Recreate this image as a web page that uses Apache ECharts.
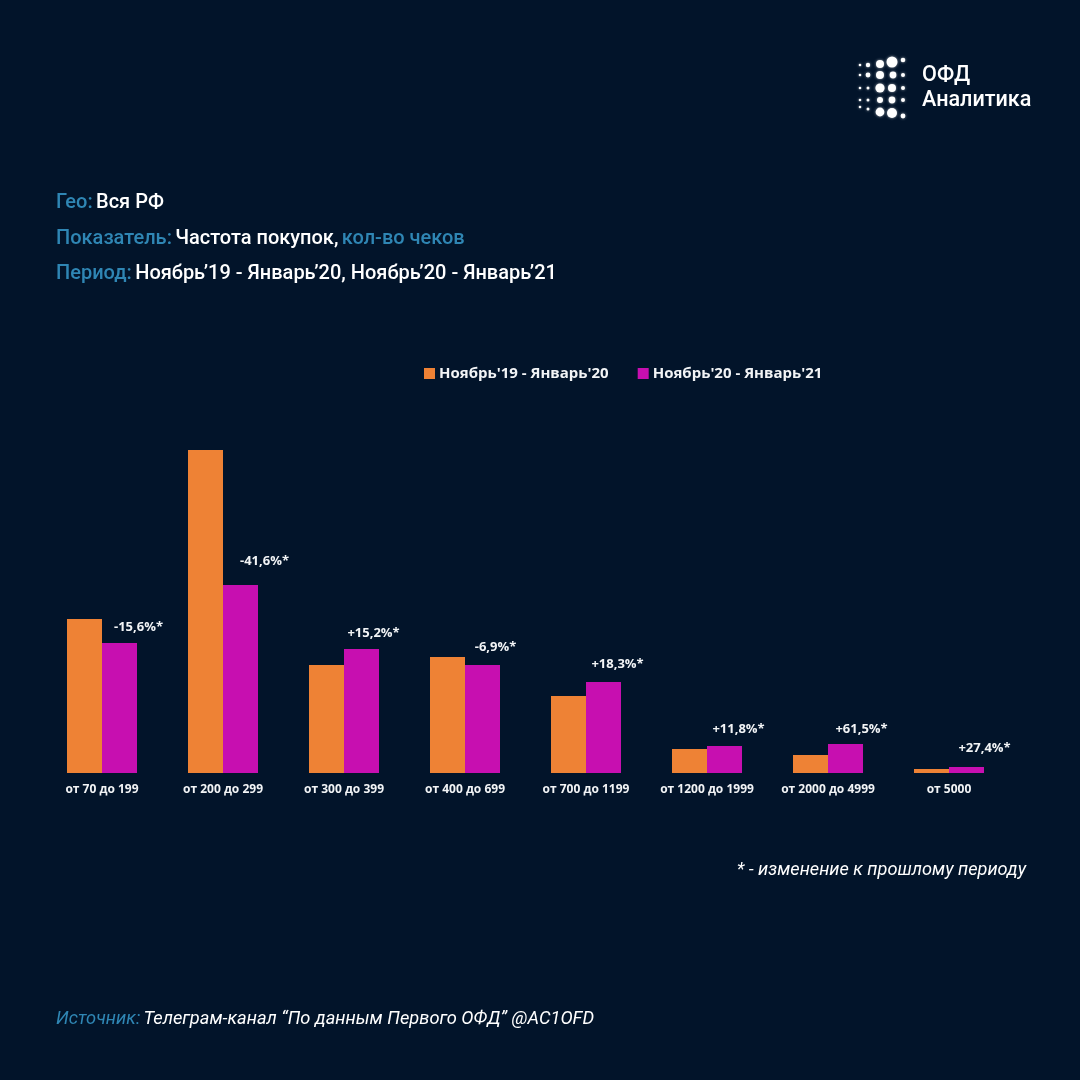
<!DOCTYPE html>
<html>
<head>
<meta charset="utf-8">
<style>html,body{margin:0;padding:0;background:#02142a}#chart{width:1080px;height:1080px}</style>
<script src="https://cdn.jsdelivr.net/npm/echarts@6/dist/echarts.min.js"></script>
</head>
<body>
<div id="chart"></div>
<script>
const categories = ['от 70 до 199','от 200 до 299','от 300 до 399','от 400 до 699','от 700 до 1199','от 1200 до 1999','от 2000 до 4999','от 5000']
const prevPeriod = [154, 323, 108, 116, 77, 24, 18, 4]
const currPeriod = [130, 188, 124, 108, 91, 27, 29, 6]
const changes = ['-15,6%*','-41,6%*','+15,2%*','-6,9%*','+18,3%*','+11,8%*','+61,5%*','+27,4%*']
const seriesNames = ["Ноябрь'19 - Январь'20", "Ноябрь'20 - Январь'21"]

const labelShift = [[19,-4],[24,-12],[12,-4],[13,-6],[14,-6],[14,-5],[16,-3],[18,-7]]
const BLUE = '#2f86b4'
const WHITE = '#ffffff'

var chart = echarts.init(document.getElementById('chart'))

function richLine(y, rich_text, font){
  return {
    type: 'text', left: 56, top: y,
    style: {
      text: rich_text,
      rich: {
        b: { fill: BLUE, font: font },
        w: { fill: WHITE, font: font }
      }
    }
  }
}

// logo dots: [x, y, r]
const logoDots = [
  [860,65,1.3],[868,65,2.2],[880,64,4],[892,62,5.5],[903,60,2.3],
  [860,75,1.3],[868,75,2.4],[880,75,4],[893,75,3.4],[903,75,2],
  [860,88,1.3],[868,88,1.5],[880,88,4.6],[892,88,4],[903,88,2],
  [860,100,1.3],[868,100,1.5],[880,100,3],[892,100,3.4],[903,100,2],
  [860,107,1.3],[868,109,1.5],[880,112,4.4],[892,113,5],[903,116,2.4]
]

const option = {
  backgroundColor: '#02142a',
  animation: false,
  legend: {
    data: seriesNames,
    left: 419, top: 361,
    icon: 'rect',
    itemWidth: 11, itemHeight: 11,
    itemGap: 29,
    textStyle: { color: '#f2f4f6', fontFamily: 'Open Sans', fontWeight: 700, fontSize: 15, padding: [0,0,0,-1] }
  },
  grid: { left: 41.5, width: 968, top: 423, height: 350 },
  xAxis: {
    type: 'category',
    data: categories,
    axisLine: { show: false },
    axisTick: { show: false },
    axisLabel: { interval: 0, color: '#f2f4f6', fontFamily: 'Open Sans', fontWeight: 700, fontSize: 12, margin: 11 }
  },
  yAxis: { type: 'value', min: 0, max: 350, show: false },
  series: [
    {
      name: seriesNames[0], type: 'bar', barWidth: 35, barGap: 0,
      itemStyle: { color: '#ee8235' },
      data: prevPeriod
    },
    {
      name: seriesNames[1], type: 'bar', barWidth: 35,
      itemStyle: { color: '#c70fb0' },
      data: currPeriod.map(function(v, i){
        return {
          value: v,
          label: {
            show: true, position: 'top', formatter: changes[i], offset: labelShift[i],
            color: '#f2f4f6', fontFamily: 'Open Sans', fontWeight: 700, fontSize: 13
          }
        }
      })
    }
  ],
  graphic: [
    richLine(193, '{b|Гео:} {w|Вся РФ}', '500 20px Roboto'),
    richLine(229, '{b|Показатель:} {w|Частота покупок,} {b|кол-во чеков}', '500 20px Roboto'),
    richLine(264, '{b|Период:} {w|Ноябрь’19 - Январь’20, Ноябрь’20 - Январь’21}', '500 20px Roboto'),
    richLine(1010, '{b|Источник:} {w|Телеграм-канал “По данным Первого ОФД” @AC1OFD}', 'italic 18.3px Roboto'),
    { type: 'text', right: 54, top: 861, style: { text: '* - изменение к прошлому периоду', fill: WHITE, font: 'italic 18.2px Roboto' } },
    { type: 'text', left: 922, top: 63, style: { text: 'ОФД\nАналитика', fill: WHITE, font: '500 21.6px Roboto', lineHeight: 25 } }
  ].concat(logoDots.map(function(d){
    return { type: 'circle', shape: { cx: d[0], cy: d[1], r: d[2] }, style: { fill: '#ffffff', shadowBlur: 3, shadowColor: 'rgba(255,255,255,0.6)' } }
  }))
}
chart.setOption(option)
</script>
</body>
</html>
